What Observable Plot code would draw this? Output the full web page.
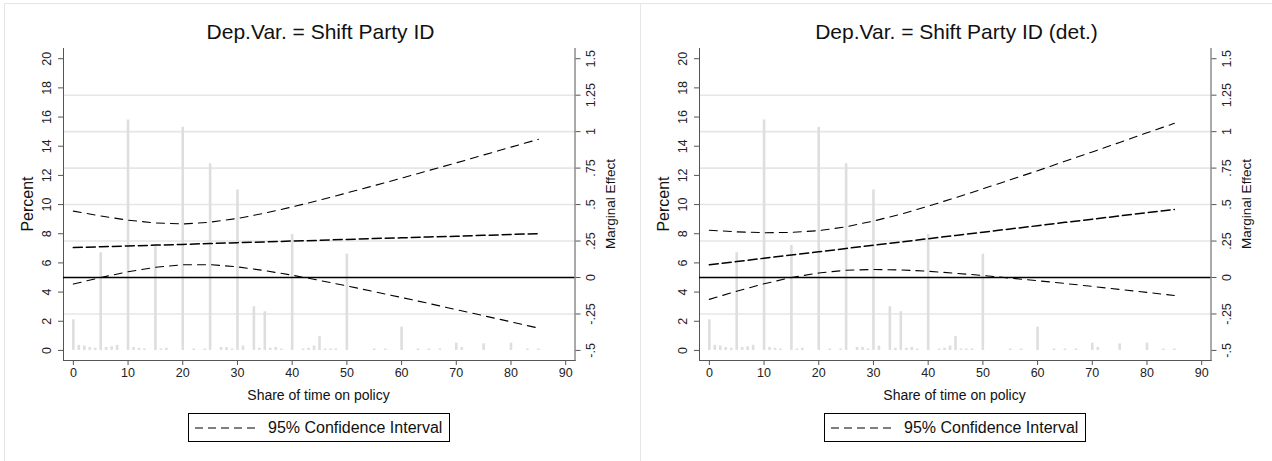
<!DOCTYPE html>
<html><head><meta charset="utf-8">
<script src="https://cdn.jsdelivr.net/npm/d3@7"></script>
<script src="https://cdn.jsdelivr.net/npm/@observablehq/plot@0.6"></script>
<style>
body{margin:0;background:#fff;font-family:"Liberation Sans",Arial,sans-serif;width:1272px;height:461px;overflow:hidden;position:relative;color:#111}
.panel{position:absolute;top:3px;width:640px;height:470px;border:1px solid #e6e6e6;background:#fff}
.layer{position:absolute;left:0;top:0}
.title{position:absolute;left:0;width:631px;top:17px;text-align:center;font-size:21px;line-height:21px;white-space:nowrap}
.vlab{position:absolute;transform:translate(-50%,-50%) rotate(-90deg);white-space:nowrap;line-height:1}
.xlab{position:absolute;left:58px;width:511px;top:383px;text-align:center;font-size:14px;line-height:16px}
.legend{position:absolute;left:183px;top:409px;width:260px;height:27px;border:1px solid #000;display:flex;align-items:center;font-size:16px}
</style>
</head><body>
<div id="p1" class="panel" style="left:4px"></div>
<div id="p2" class="panel" style="left:640px"></div>
<script>
// Histogram of share of time on policy (percent), same sample in both panels
const shareX = [0,1,2,3,4,5,6,7,8,10,11,12,13,15,16,17,20,22,24,25,27,28,29,30,31,33,34,35,36,37,38,40,42,43,44,45,46,47,48,50,55,57,60,63,65,67,70,71,75,80,83,85];
const sharePct = [2.1,0.35,0.3,0.2,0.15,6.7,0.2,0.25,0.35,15.8,0.2,0.15,0.1,7.2,0.1,0.15,15.3,0.1,0.1,12.8,0.2,0.2,0.1,11.0,0.3,3.0,0.15,2.65,0.15,0.2,0.1,7.95,0.1,0.15,0.3,0.95,0.1,0.1,0.1,6.6,0.1,0.1,1.6,0.1,0.1,0.1,0.5,0.2,0.45,0.5,0.1,0.1];

// Marginal effect estimates along share of time on policy
const meX = [0,5,10,15,20,25,30,35,40,45,50,55,60,65,70,75,80,85];
const meA = [0.205,0.211,0.216,0.222,0.227,0.233,0.239,0.244,0.250,0.255,0.261,0.267,0.272,0.278,0.283,0.289,0.295,0.300];
const upA = [0.455,0.422,0.393,0.374,0.367,0.379,0.405,0.441,0.484,0.530,0.580,0.630,0.681,0.734,0.786,0.840,0.894,0.947];
const loA = [-0.045,0.000,0.039,0.070,0.087,0.088,0.073,0.047,0.016,-0.020,-0.057,-0.097,-0.137,-0.178,-0.220,-0.262,-0.304,-0.347];
const meB = [0.087,0.109,0.132,0.154,0.176,0.199,0.221,0.243,0.266,0.288,0.311,0.333,0.355,0.378,0.400,0.422,0.445,0.467];
const upB = [0.324,0.313,0.307,0.309,0.321,0.348,0.387,0.434,0.489,0.547,0.608,0.670,0.732,0.797,0.861,0.926,0.992,1.057];
const loB = [-0.150,-0.094,-0.043,0.000,0.031,0.050,0.055,0.052,0.043,0.029,0.014,-0.004,-0.022,-0.041,-0.061,-0.082,-0.102,-0.123];

// Axis ticks
const xTicks = [0,10,20,30,40,50,60,70,80,90];
const pctTicks = [0,2,4,6,8,10,12,14,16,18,20];
const meTicks = [-0.5,-0.25,0,0.25,0.5,0.75,1,1.25,1.5];
const meTickLabels = ["-.5","-.25","0",".25",".5",".75","1","1.25","1.5"];
const meGrid = [-0.25,0.25,0.5,0.75,1,1.25];

const titles = ["Dep.Var. = Shift Party ID","Dep.Var. = Shift Party ID (det.)"];
const legendLabel = "95% Confidence Interval";
const axisTitles = {x:"Share of time on policy", yl:"Percent", yr:"Marginal Effect"};

const meLabel = new Map(meTicks.map((t,i)=>[t, meTickLabels[i]]));
const FONT = "'Liberation Sans', Arial, sans-serif";

function buildPanel(el, title, me, up, lo){
  const hist = shareX.map((x,i)=>({x, pct: sharePct[i]}));
  const lines = meX.map((x,i)=>({x, me: me[i], up: up[i], lo: lo[i]}));
  const common = {width:631, height:420, marginLeft:58, marginRight:61.5, marginTop:44, marginBottom:64,
    x:{domain:[-1.8,91.7], axis:null}};
  const style = {fontFamily: FONT, fontSize:"12.5px", background:"transparent", color:"#222", overflow:"visible"};
  const pctDomain = [-0.69, 20.7];
  const meDomain = [-0.569, 1.57];

  const grid = Plot.plot({...common, style, y:{domain: meDomain, axis:null}, marks:[
    Plot.ruleY(meGrid, {stroke:"#e6e6e6", strokeWidth:1.6})
  ]});
  const bars = Plot.plot({...common, style, y:{domain: pctDomain, axis:null}, marks:[
    Plot.ruleX(hist, {x:"x", y1:0, y2:"pct", stroke:"#dedede", strokeWidth:2.6}),
    Plot.axisY(pctTicks, {anchor:"left", tickSize:5, tickPadding:8, tickRotate:-90, textAnchor:"middle", lineAnchor:"bottom", label:null, stroke:"#555"}),
    Plot.axisX(xTicks, {anchor:"bottom", tickSize:5, tickPadding:3, label:null, stroke:"#555"}),
    Plot.frame({anchor:"left", stroke:"#555"}),
    Plot.frame({anchor:"bottom", stroke:"#555"})
  ]});
  const top = Plot.plot({...common, style, y:{domain: meDomain, axis:null}, marks:[
    Plot.ruleY([0], {stroke:"#000", strokeWidth:1.4}),
    Plot.line(lines, {x:"x", y:"up", stroke:"#000", strokeWidth:1.1, strokeDasharray:"8,6"}),
    Plot.line(lines, {x:"x", y:"lo", stroke:"#000", strokeWidth:1.1, strokeDasharray:"8,6"}),
    Plot.line(lines, {x:"x", y:"me", stroke:"#000", strokeWidth:1.5, strokeDasharray:"9,4"}),
    Plot.axisY(meTicks, {anchor:"right", tickSize:5, tickPadding:6, tickRotate:-90, textAnchor:"middle", lineAnchor:"top", tickFormat: d => meLabel.get(d), label:null, stroke:"#555"}),
    Plot.frame({anchor:"right", stroke:"#555"})
  ]});
  for (const s of [grid, bars, top]) { s.classList.add("layer"); el.appendChild(s); }

  const t = document.createElement("div"); t.className="title"; t.textContent=title; el.appendChild(t);
  const yl = document.createElement("div"); yl.className="vlab"; yl.style.cssText="left:23px;top:200px;font-size:16px"; yl.textContent=axisTitles.yl; el.appendChild(yl);
  const yr = document.createElement("div"); yr.className="vlab"; yr.style.cssText="left:606px;top:200px;font-size:13.5px"; yr.textContent=axisTitles.yr; el.appendChild(yr);
  const xl = document.createElement("div"); xl.className="xlab"; xl.textContent=axisTitles.x; el.appendChild(xl);
  const lg = document.createElement("div"); lg.className="legend";
  lg.innerHTML = '<svg width="74" height="10" style="margin-left:5px;flex:none"><line x1="1" y1="5" x2="63" y2="5" stroke="#000" stroke-width="1.2" stroke-dasharray="8,5"/></svg>';
  const sp = document.createElement("span"); sp.textContent = legendLabel; lg.appendChild(sp);
  el.appendChild(lg);
}
buildPanel(document.getElementById("p1"), titles[0], meA, upA, loA);
buildPanel(document.getElementById("p2"), titles[1], meB, upB, loB);
</script>
</body></html>
